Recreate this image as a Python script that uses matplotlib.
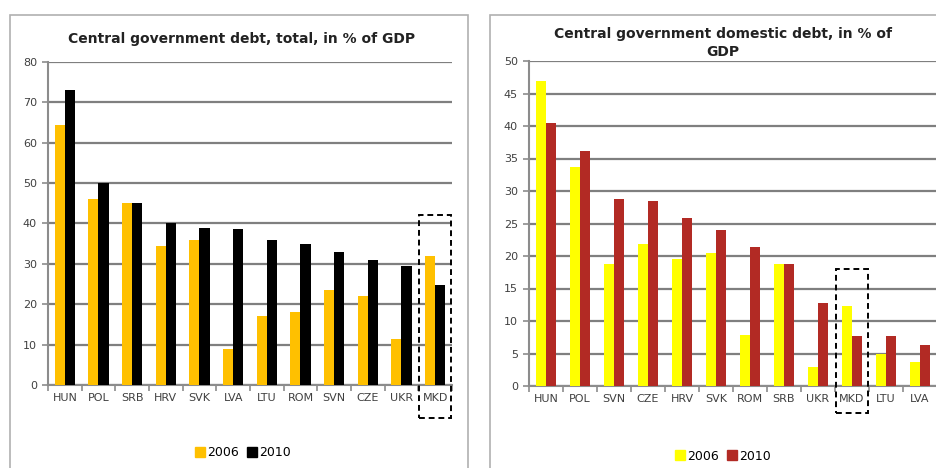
import matplotlib
matplotlib.use('Agg')
import matplotlib.pyplot as plt
from matplotlib.patches import Rectangle, Patch
import numpy as np

# left panel: total debt
total_countries = ['HUN', 'POL', 'SRB', 'HRV', 'SVK', 'LVA', 'LTU', 'ROM', 'SVN', 'CZE', 'UKR', 'MKD']
total_2006 = [64.5, 46, 45, 34.5, 36, 9, 17, 18, 23.5, 22, 11.5, 32]
total_2010 = [73, 50, 45, 40, 39, 38.7, 36, 35, 33, 31, 29.5, 24.8]

# right panel: domestic debt
dom_countries = ['HUN', 'POL', 'SVN', 'CZE', 'HRV', 'SVK', 'ROM', 'SRB', 'UKR', 'MKD', 'LTU', 'LVA']
dom_2006 = [47, 33.7, 18.7, 21.8, 19.5, 20.5, 7.8, 18.8, 3, 12.3, 5, 3.7]
dom_2010 = [40.5, 36.2, 28.7, 28.5, 25.8, 24, 21.4, 18.8, 12.8, 7.7, 7.7, 6.3]

W, H = 937, 468
fig = plt.figure(figsize=(W / 100, H / 100), dpi=100)
fig.patch.set_facecolor('white')

# panel frames
fig.add_artist(Rectangle((10 / W, -0.05), 458 / W, 1.05 - 15 / H, transform=fig.transFigure,
                         fill=False, edgecolor='#B0B0B0', linewidth=1.2))
fig.add_artist(Rectangle((490 / W, -0.05), 460 / W, 1.05 - 15 / H, transform=fig.transFigure,
                         fill=False, edgecolor='#B0B0B0', linewidth=1.2))


def draw_panel(rect, cats, v06, v10, c06, c10, ymax, ystep, box_idx, box_top, box_bottom):
    ax = fig.add_axes(rect)
    x = np.arange(len(cats))
    bw = 0.3
    ax.bar(x - bw / 2, v06, bw, color=c06, zorder=3)
    ax.bar(x + bw / 2, v10, bw, color=c10, zorder=3)
    ax.set_xlim(-0.5, len(cats) - 0.5)
    ax.set_ylim(0, ymax)
    ax.set_yticks(np.arange(0, ymax + 0.1, ystep))
    ax.yaxis.grid(True, color='#7F7F7F', linewidth=1.6, zorder=0)
    ax.set_axisbelow(True)
    for s in ['top', 'right']:
        ax.spines[s].set_visible(False)
    ax.spines['left'].set_color('#8C8C8C')
    ax.spines['bottom'].set_color('#8C8C8C')
    ax.spines['left'].set_linewidth(1.5)
    ax.spines['bottom'].set_linewidth(1.5)
    ax.set_xticks(x)
    ax.set_xticklabels(cats)
    ax.set_xticks(np.arange(-0.5, len(cats)), minor=True)
    ax.tick_params(axis='x', which='major', length=0, labelsize=8, colors='#404040', pad=6)
    ax.tick_params(axis='x', which='minor', length=4, color='#8C8C8C', width=1.2)
    ax.tick_params(axis='y', length=4, color='#8C8C8C', width=1.2, labelsize=8,
                   colors='#404040', pad=4)
    ax.add_patch(Rectangle((box_idx - 0.47, box_bottom), 0.94, box_top - box_bottom,
                           fill=False, linestyle=(0, (3, 2)), linewidth=1.4,
                           edgecolor='black', clip_on=False, zorder=5))
    return ax


ax1 = draw_panel([48 / W, 83 / H, 404 / W, 323 / H], total_countries, total_2006, total_2010,
                 '#FFC000', '#000000', 80, 10, 11, 42, -8.2)
ax2 = draw_panel([529 / W, 82 / H, 408 / W, 325 / H], dom_countries, dom_2006, dom_2010,
                 '#FFFF00', '#B22A24', 50, 5, 9, 18, -4.2)

fig.text(242 / W, 1 - 39 / H, 'Central government debt, total, in % of GDP',
         ha='center', va='center', fontsize=10, fontweight='bold', color='#222222')
fig.text(723 / W, 1 - 43 / H, 'Central government domestic debt, in % of\nGDP',
         ha='center', va='center', fontsize=10, fontweight='bold', color='#222222',
         linespacing=1.3)

fig.legend(handles=[Patch(color='#FFC000', label='2006'), Patch(color='#000000', label='2010')],
           loc='center', bbox_to_anchor=(243 / W, 1 - 453 / H), ncol=2, frameon=False,
           fontsize=9, handlelength=0.8, handleheight=0.8, handletextpad=0.2,
           columnspacing=0.6)
fig.legend(handles=[Patch(color='#FFFF00', label='2006'), Patch(color='#B22A24', label='2010')],
           loc='center', bbox_to_anchor=(723 / W, 1 - 456 / H), ncol=2, frameon=False,
           fontsize=9, handlelength=0.8, handleheight=0.8, handletextpad=0.2,
           columnspacing=0.6)

fig.savefig('out.png', dpi=100)
